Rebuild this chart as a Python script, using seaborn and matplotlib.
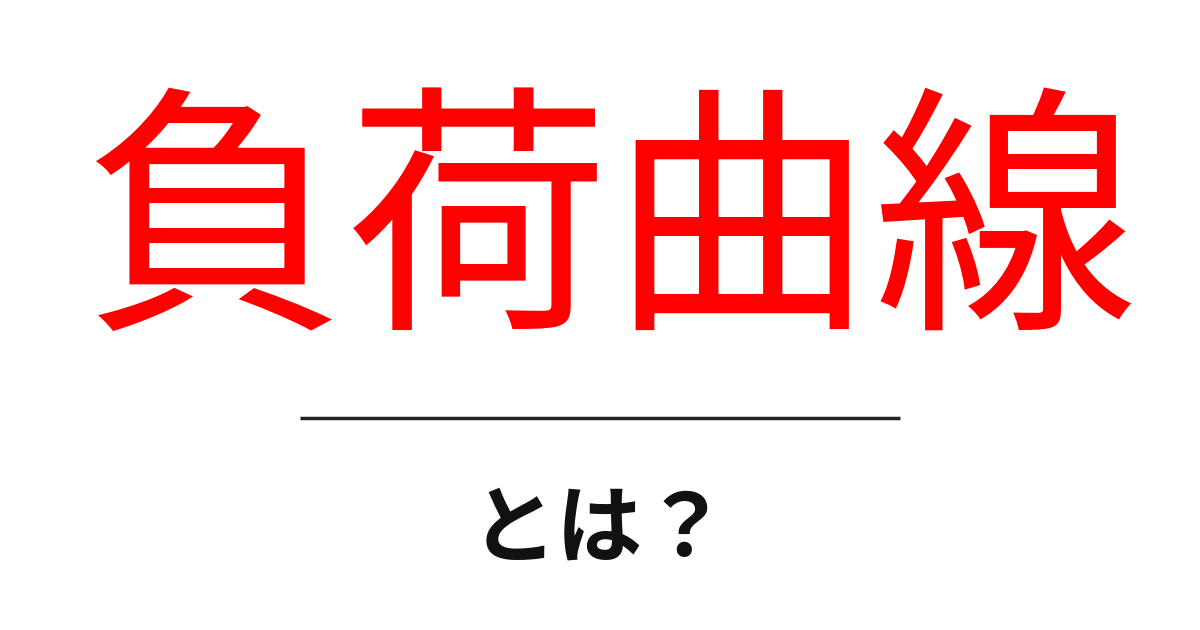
import matplotlib
matplotlib.use("Agg")
import matplotlib.pyplot as plt
import seaborn as sns

# text content
title_chars = ["負", "荷", "曲", "線"]
subtitle = "とは？"

sns.set_theme(style="white")
plt.rcParams['font.family'] = ['Noto Sans CJK JP', 'DejaVu Sans']

fig = plt.figure(figsize=(12, 6.3), dpi=100)
fig.patch.set_facecolor("white")
ax = fig.add_axes([0, 0, 1, 1])
ax.set_xlim(0, 1200)
ax.set_ylim(630, 0)
ax.axis("off")

# big red title
ax.text(610, 234, "".join(title_chars), color="#ff0000", fontsize=190,
        ha="center", va="center", fontweight="regular")

# separator line
ax.plot([300, 900], [418, 418], color="#222222", linewidth=2.5, solid_capstyle="butt")

# subtitle
ax.text(600, 530, subtitle, color="#111111", fontsize=62,
        ha="center", va="center", fontweight="bold")

fig.savefig("out.png", dpi=100, facecolor="white")
